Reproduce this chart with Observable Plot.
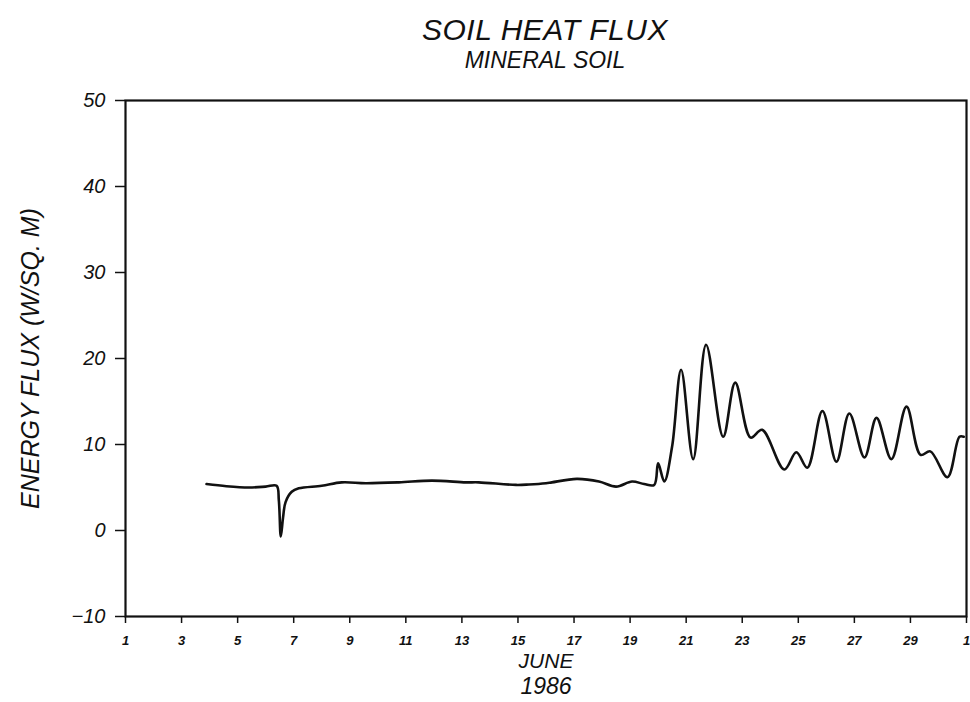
<!DOCTYPE html>
<html>
<head>
<meta charset="utf-8">
<script src="https://cdn.jsdelivr.net/npm/d3@7"></script>
<script src="https://cdn.jsdelivr.net/npm/@observablehq/plot@0.6"></script>
<style>
  html, body { margin: 0; padding: 0; background: #fff; }
  #wrap { position: relative; width: 970px; height: 702px; overflow: hidden; font-family: "Liberation Sans", Arial, sans-serif; color: #111; }
  .ttl { position: absolute; left: 0; width: 1090px; text-align: center; white-space: nowrap; font-style: italic; }
  #t1 { top: 13px; font-size: 30px; letter-spacing: 0.5px; }
  #t2 { top: 47px; font-size: 23px; }
  #chart { position: absolute; left: 0; top: 0; }
</style>
</head>
<body>
<div id="wrap">
  <div id="chart"></div>
  <div class="ttl" id="t1">SOIL HEAT FLUX</div>
  <div class="ttl" id="t2">MINERAL SOIL</div>
</div>
<script>
// Day of June 1986 (31 = July 1) and soil heat flux (W/sq. m)
const days = [3.89, 4.6, 5.39, 6.0, 6.39, 6.47, 6.54, 6.62, 6.71, 6.93, 7.18, 8.0, 8.71, 9.57, 10.75, 11.93, 13.14, 13.6, 14.93, 15.39, 16.0, 16.21, 17.1, 17.89, 18.5, 19.07, 19.5, 19.86, 20.0, 20.22, 20.5, 20.82, 21.25, 21.71, 22.32, 22.75, 23.3, 23.71, 24.5, 24.93, 25.32, 25.86, 26.36, 26.82, 27.36, 27.79, 28.32, 28.86, 29.36, 29.71, 30.32, 30.75, 30.9];
const flux = [5.4, 5.15, 5.0, 5.1, 5.2, 3.5, -0.7, 1.5, 3.3, 4.5, 4.9, 5.2, 5.6, 5.5, 5.6, 5.8, 5.6, 5.6, 5.3, 5.35, 5.5, 5.6, 6.0, 5.7, 5.1, 5.7, 5.4, 5.3, 7.8, 5.7, 9.8, 18.7, 8.3, 21.6, 10.9, 17.2, 10.8, 11.7, 7.1, 9.1, 7.3, 13.9, 8.0, 13.6, 8.5, 13.1, 8.3, 14.4, 8.8, 9.2, 6.2, 10.9, 10.9];

const xTicks = [1, 3, 5, 7, 9, 11, 13, 15, 17, 19, 21, 23, 25, 27, 29, 31];
const xTickLabels = ["1", "3", "5", "7", "9", "11", "13", "15", "17", "19", "21", "23", "25", "27", "29", "1"];
const yTicks = [-10, 0, 10, 20, 30, 40, 50];
const yTickLabels = ["\u221210", "0", "10", "20", "30", "40", "50"];
const yLabel = "ENERGY FLUX (W/SQ. M)";
const xLabel = ["JUNE", "1986"];

const data = days.map((d, i) => ({day: d, flux: flux[i]}));

const chart = Plot.plot({
  width: 970,
  height: 702,
  marginTop: 100,
  marginBottom: 86,
  marginLeft: 125,
  marginRight: 4,
  style: {fontFamily: "'Liberation Sans', Arial, sans-serif", color: "#111", background: "#fff"},
  x: {domain: [1, 31]},
  y: {domain: [-10, 50]},
  marks: [
    Plot.axisY({
      ticks: yTicks,
      tickFormat: (d) => yTickLabels[yTicks.indexOf(d)],
      tickSize: 10,
      tickPadding: 10,
      strokeWidth: 1.5,
      fontSize: 20,
      fontStyle: "italic",
      letterSpacing: 1,
      label: null
    }),
    Plot.axisX({
      ticks: xTicks,
      tickFormat: (d) => xTickLabels[xTicks.indexOf(d)],
      tickSize: 7,
      tickPadding: 12,
      strokeWidth: 1.5,
      fontSize: 13,
      fontStyle: "italic",
      fontWeight: "bold",
      label: null
    }),
    Plot.frame({strokeWidth: 2.2}),
    Plot.line(data, {x: "day", y: "flux", curve: "catmull-rom", stroke: "#111", strokeWidth: 2.6}),
    Plot.text([yLabel], {frameAnchor: "left", textAnchor: "middle", rotate: -90, dx: -95, fontSize: 25, fontStyle: "italic"}),
    Plot.text([xLabel[0]], {frameAnchor: "bottom", dy: 51, fontSize: 21, fontStyle: "italic"}),
    Plot.text([xLabel[1]], {frameAnchor: "bottom", dy: 77, fontSize: 23, fontStyle: "italic", letterSpacing: 2})
  ]
});
document.getElementById("chart").appendChild(chart);
</script>
</body>
</html>
